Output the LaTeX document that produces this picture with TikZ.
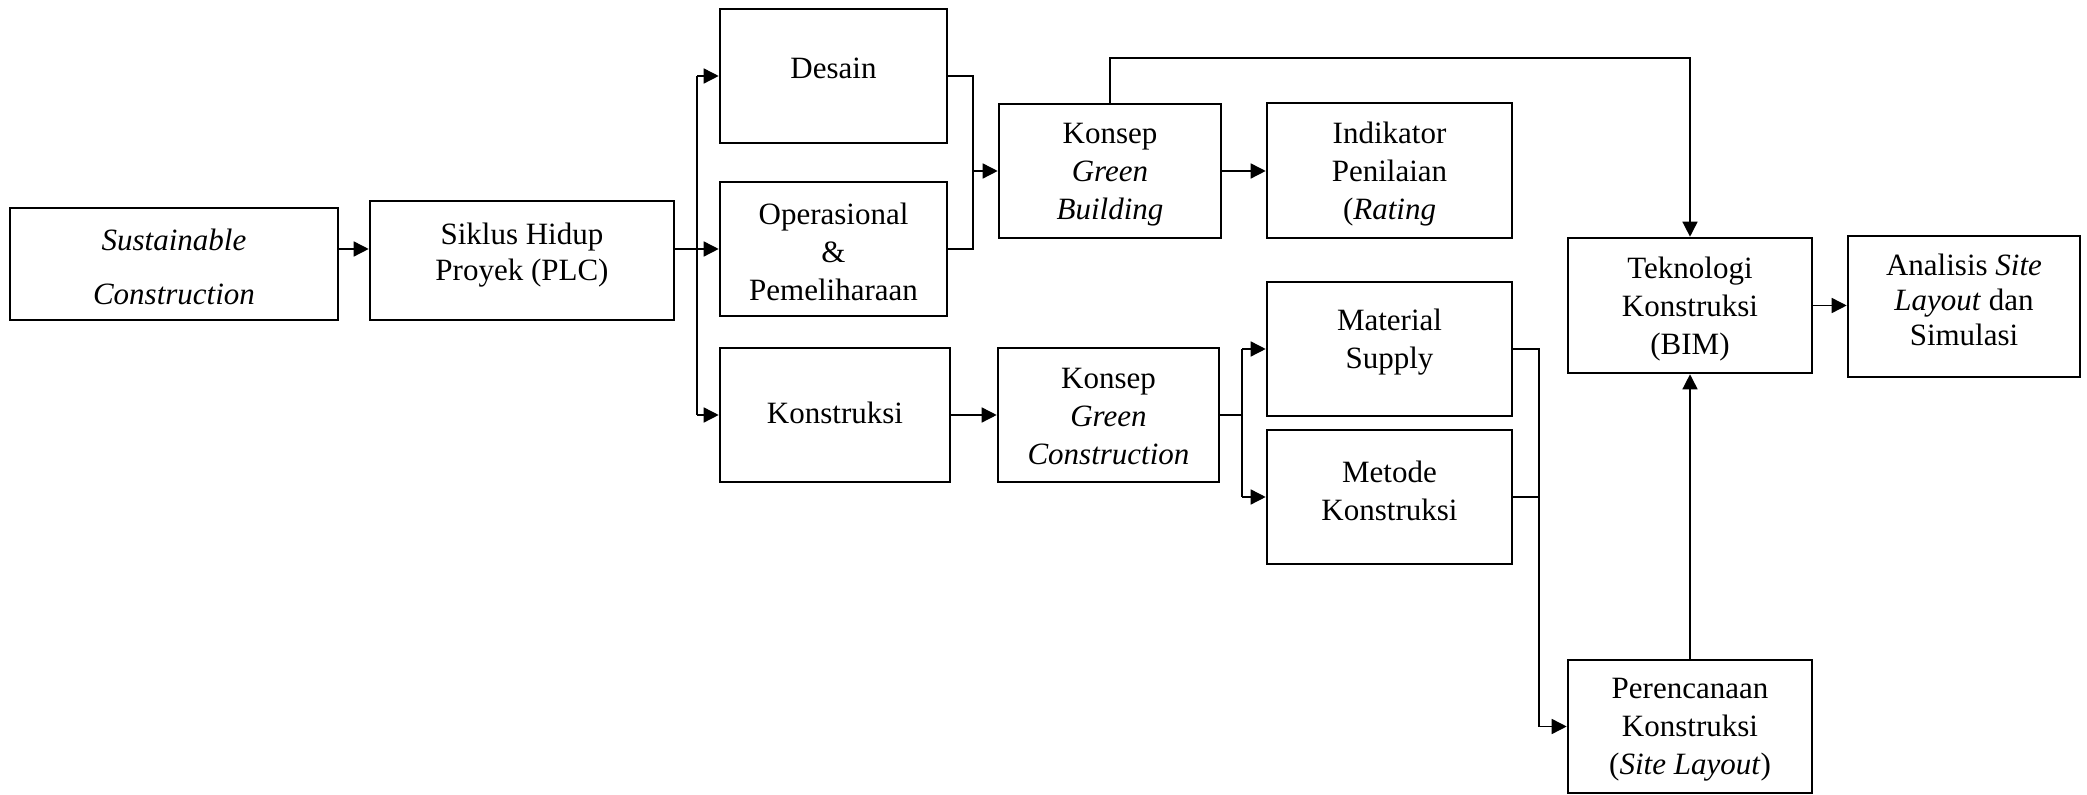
\documentclass[tikz,border=0pt]{standalone}
\usepackage{fontspec}
\setmainfont{Liberation Serif}
\usetikzlibrary{arrows.meta}

\begin{document}
\begin{tikzpicture}[x=0.5pt,y=-0.5pt,
  box/.style={draw, line width=1.3pt, inner sep=0pt},
  txt/.style={align=center, inner sep=0pt, font=\fontsize{15.5}{19}\selectfont},
  wire/.style={line width=0.75pt},
  arr/.style={wire, -{Triangle[length=7.5pt,width=7.5pt]}},
]
\useasboundingbox (0,0) rectangle (2087,795);

% boxes
\node[box, minimum width=164pt,   minimum height=56pt]   (sust)  at (174,264)    {};
\node[box, minimum width=152pt,   minimum height=59.5pt] (plc)   at (522,260.5)  {};
\node[box, minimum width=113.5pt, minimum height=67pt]   (des)   at (833.5,76)   {};
\node[box, minimum width=113.5pt, minimum height=67pt]   (ops)   at (833.5,249)  {};
\node[box, minimum width=115pt,   minimum height=67pt]   (kon)   at (835,415)    {};
\node[box, minimum width=111pt,   minimum height=67pt]   (gb)    at (1110,171)   {};
\node[box, minimum width=110.5pt, minimum height=67pt]   (gc)    at (1108.5,415) {};
\node[box, minimum width=122.5pt, minimum height=67.5pt] (ind)   at (1389.5,170.5) {};
\node[box, minimum width=122.5pt, minimum height=67pt]   (mat)   at (1389.5,349) {};
\node[box, minimum width=122.5pt, minimum height=67pt]   (met)   at (1389.5,497) {};
\node[box, minimum width=122pt,   minimum height=67.5pt] (bim)   at (1690,305.5) {};
\node[box, minimum width=116pt,   minimum height=70.5pt] (ana)   at (1964,306.5) {};
\node[box, minimum width=122pt,   minimum height=66.5pt] (per)   at (1690,726.5) {};

% labels
\node[txt, font=\fontsize{15.5}{27}\selectfont] at (174,267) {\textit{Sustainable}\\\textit{Construction}};
\node[txt, font=\fontsize{15.5}{18}\selectfont] at (522,255) {Siklus Hidup\\Proyek (PLC)};
\node[txt] at (833.5,68)  {Desain};
\node[txt] at (833.5,252) {Operasional\\\&\\Pemeliharaan};
\node[txt] at (835,413)   {Konstruksi};
\node[txt] at (1110,175)  {Konsep\\\textit{Green}\\\textit{Building}};
\node[txt] at (1108.5,417) {Konsep\\\textit{Green}\\\textit{Construction}};
\node[txt] at (1389.5,174) {Indikator\\Penilaian\\(\textit{Rating}};
\node[txt] at (1389.5,342) {Material\\Supply};
\node[txt] at (1389.5,491) {Metode\\Konstruksi};
\node[txt] at (1690,309)  {Teknologi\\Konstruksi\\(BIM)};
\node[txt, font=\fontsize{15.5}{17.5}\selectfont] at (1964,300) {Analisis \textit{Site}\\\textit{Layout} dan\\Simulasi};
\node[txt] at (1690,730)  {Perencanaan\\Konstruksi\\(\textit{Site Layout})};

% routing columns and rows
\coordinate (c1) at (697,0);
\coordinate (c2) at (973,0);
\coordinate (c3) at (1242,0);
\coordinate (c4) at (1539,0);
\coordinate (top) at (0,58);

% connectors
\draw[arr] (sust.east |- ops.west) -- (plc.west |- ops.west);
\draw[arr] (plc.east |- ops.west) -- (ops.west);
\draw[wire] (c1 |- des.west) -- (c1 |- kon.west);
\draw[arr] (c1 |- des.west) -- (des.west);
\draw[arr] (c1 |- kon.west) -- (kon.west);

\draw[wire] (des.east) -| (c2 |- ops.east) -- (ops.east);
\draw[arr] (c2 |- gb.west) -- (gb.west);
\draw[arr] (gb.east) -- (ind.west |- gb.east);
\draw[arr] (gb.north) -- (gb.north |- top) -| (bim.north);

\draw[arr] (kon.east) -- (gc.west);
\draw[wire] (gc.east) -- (c3 |- gc.east);
\draw[wire] (c3 |- mat.west) -- (c3 |- met.west);
\draw[arr] (c3 |- mat.west) -- (mat.west);
\draw[arr] (c3 |- met.west) -- (met.west);

\draw[wire] (mat.east) -| (c4 |- per.west);
\draw[wire] (met.east) -- (c4 |- met.east);
\draw[arr] (c4 |- per.west) -- (per.west);
\draw[arr] (per.north) -- (bim.south);
\draw[arr] (bim.east) -- (ana.west |- bim.east);
\end{tikzpicture}
\end{document}
